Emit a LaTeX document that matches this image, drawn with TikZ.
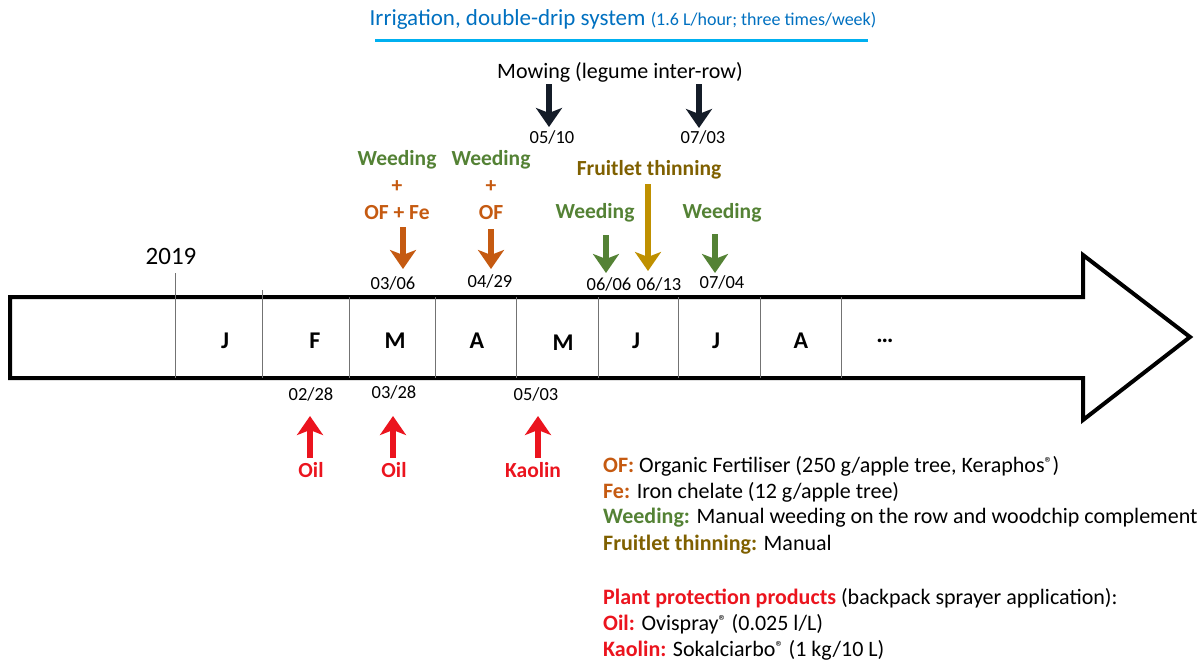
\documentclass[tikz,border=0pt]{standalone}
\usepackage{fontspec}
\setmainfont{Carlito}
\usetikzlibrary{arrows.meta}
\definecolor{cOF}{RGB}{197,90,17}
\definecolor{cWeed}{RGB}{84,130,53}
\definecolor{cFruitT}{RGB}{127,96,0}
\definecolor{cFruitA}{RGB}{191,144,0}
\definecolor{cRed}{RGB}{235,20,30}
\definecolor{cIrrT}{RGB}{0,112,192}
\definecolor{cIrrL}{RGB}{0,176,240}
\definecolor{cMow}{RGB}{20,28,40}
\newcommand{\regmark}{\raisebox{0.35ex}{\fontsize{16}{16}\selectfont ®}}
\tikzset{
  month/.style={font=\fontsize{24}{26}\selectfont\bfseries, inner sep=0pt},
  datelbl/.style={font=\fontsize{18.5}{20}\selectfont, inner sep=0pt},
  actlbl/.style={font=\fontsize{21.5}{23}\selectfont\bfseries, inner sep=0pt},
  legend/.style={font=\fontsize{22}{24}\selectfont, inner sep=0pt, anchor=west},
  blockarrow/.style={line width=5.5pt, -{Stealth[length=19pt, width=26pt, inset=5pt]}},
  divider/.style={line width=0.8pt, black!55}
}
\begin{document}
\begin{tikzpicture}[x=1pt, y=-1pt]
\useasboundingbox (0,0) rectangle (1203,662);
% big arrow
\draw[line width=4pt, line join=miter, fill=white] (10,297) -- (1083,297) -- (1083,255) -- (1190,337) -- (1083,420) -- (1083,378) -- (10,378) -- cycle;
% dividers
\draw[divider] (175,273) -- (175,378);
\draw[divider] (262,290) -- (262,378);
\foreach \x in {349,435,516,598,678,760,841} \draw[divider] (\x,297) -- (\x,378);
% months
\node[month] (mJ1) at (225,341) {J};
\node[month] (mF) at (315,341) {F};
\node[month] (mM1) at (395,341) {M};
\node[month] (mA1) at (477,341) {A};
\node[month] (mM2) at (563,343) {M};
\node[month] (mJ2) at (636,341) {J};
\node[month] (mJ3) at (716,341) {J};
\node[month] (mA2) at (801,341) {A};
\node[month] (mdots) at (885,341) {\dots};
\node[font=\fontsize{25}{27}\selectfont, inner sep=0pt] (yr) at (171,256) {2019};
% irrigation
\node[text=cIrrT, inner sep=0pt] (irr) at (623,19) {\fontsize{23}{25}\selectfont Irrigation, double-drip system \fontsize{18}{20}\selectfont(1.6 L/hour; three times/week)};
\draw[cIrrL, line width=3pt] (375,40) -- (868,40);
% mowing
\node[font=\fontsize{22}{24}\selectfont, inner sep=0pt] (mow) at (620,72) {Mowing (legume inter-row)};
\coordinate (mw1s) at (549,84); \coordinate (mw1e) at (549,127);
\coordinate (mw2s) at (699,84); \coordinate (mw2e) at (699,128);
\draw[blockarrow, cMow] (mw1s) -- (mw1e);
\draw[blockarrow, cMow] (mw2s) -- (mw2e);
\node[datelbl] (d0510) at (552,137) {05/10};
\node[datelbl] (d0703) at (703,137) {07/03};
% weeding + OF + Fe
\node[actlbl, text=cWeed] (w1) at (397,160) {Weeding};
\node[actlbl, text=cOF] (p1) at (397,187) {+};
\node[actlbl, text=cOF] (of1) at (397,213) {OF + Fe};
\coordinate (a1s) at (403,227); \coordinate (a1e) at (403,269);
\draw[blockarrow, cOF] (a1s) -- (a1e);
\node[datelbl] (d0306) at (393,283) {03/06};
% weeding + OF
\node[actlbl, text=cWeed] (w2) at (491,160) {Weeding};
\node[actlbl, text=cOF] (p2) at (491,187) {+};
\node[actlbl, text=cOF] (of2) at (491,213) {OF};
\coordinate (a2s) at (491,229); \coordinate (a2e) at (491,269);
\draw[blockarrow, cOF] (a2s) -- (a2e);
\node[datelbl] (d0429) at (490,281) {04/29};
% fruitlet thinning
\node[actlbl, text=cFruitT] (ft) at (649,170) {Fruitlet thinning};
\coordinate (a3s) at (648,184); \coordinate (a3e) at (648,271);
\draw[blockarrow, cFruitA] (a3s) -- (a3e);
\node[datelbl] (d0613) at (659,284) {06/13};
% weeding 06/06
\node[actlbl, text=cWeed] (w3) at (595,213) {Weeding};
\coordinate (a4s) at (606,235); \coordinate (a4e) at (606,273);
\draw[blockarrow, cWeed] (a4s) -- (a4e);
\node[datelbl] (d0606) at (609,284) {06/06};
% weeding 07/04
\node[actlbl, text=cWeed] (w4) at (722,213) {Weeding};
\coordinate (a5s) at (715,234); \coordinate (a5e) at (715,273);
\draw[blockarrow, cWeed] (a5s) -- (a5e);
\node[datelbl] (d0704) at (722,282) {07/04};
% below: oil / kaolin
\node[datelbl] (d0228) at (311,394) {02/28};
\node[datelbl] (d0328) at (394,392) {03/28};
\node[datelbl] (d0503) at (536,394) {05/03};
\coordinate (r1s) at (310,458); \coordinate (r1e) at (310,416);
\coordinate (r2s) at (393,458); \coordinate (r2e) at (393,416);
\coordinate (r3s) at (538,458); \coordinate (r3e) at (538,416);
\draw[blockarrow, cRed] (r1s) -- (r1e);
\draw[blockarrow, cRed] (r2s) -- (r2e);
\draw[blockarrow, cRed] (r3s) -- (r3e);
\node[actlbl, text=cRed] (oil1) at (311,470) {Oil};
\node[actlbl, text=cRed] (oil2) at (394,470) {Oil};
\node[actlbl, text=cRed] (kao) at (533,470) {Kaolin};
% legend
\node[legend] (l1) at (603,466) {\textbf{\color{cOF}OF:} Organic Fertiliser (250 g/apple tree, Keraphos\regmark)};
\node[legend] (l2) at (603,492) {\textbf{\color{cOF}Fe:} Iron chelate (12 g/apple tree)};
\node[legend] (l3) at (603,518) {\textbf{\color{cWeed}Weeding:} Manual weeding on the row and woodchip complement};
\node[legend] (l4) at (603,545) {\textbf{\color{cFruitT}Fruitlet thinning:} Manual};
\node[legend] (l5) at (603,598) {\textbf{\color{cRed}Plant protection products} (backpack sprayer application):};
\node[legend] (l6) at (603,624) {\textbf{\color{cRed}Oil:} Ovispray\regmark{} (0.025 l/L)};
\node[legend] (l7) at (603,650) {\textbf{\color{cRed}Kaolin:} Sokalciarbo\regmark{} (1 kg/10 L)};
\end{tikzpicture}
\end{document}
